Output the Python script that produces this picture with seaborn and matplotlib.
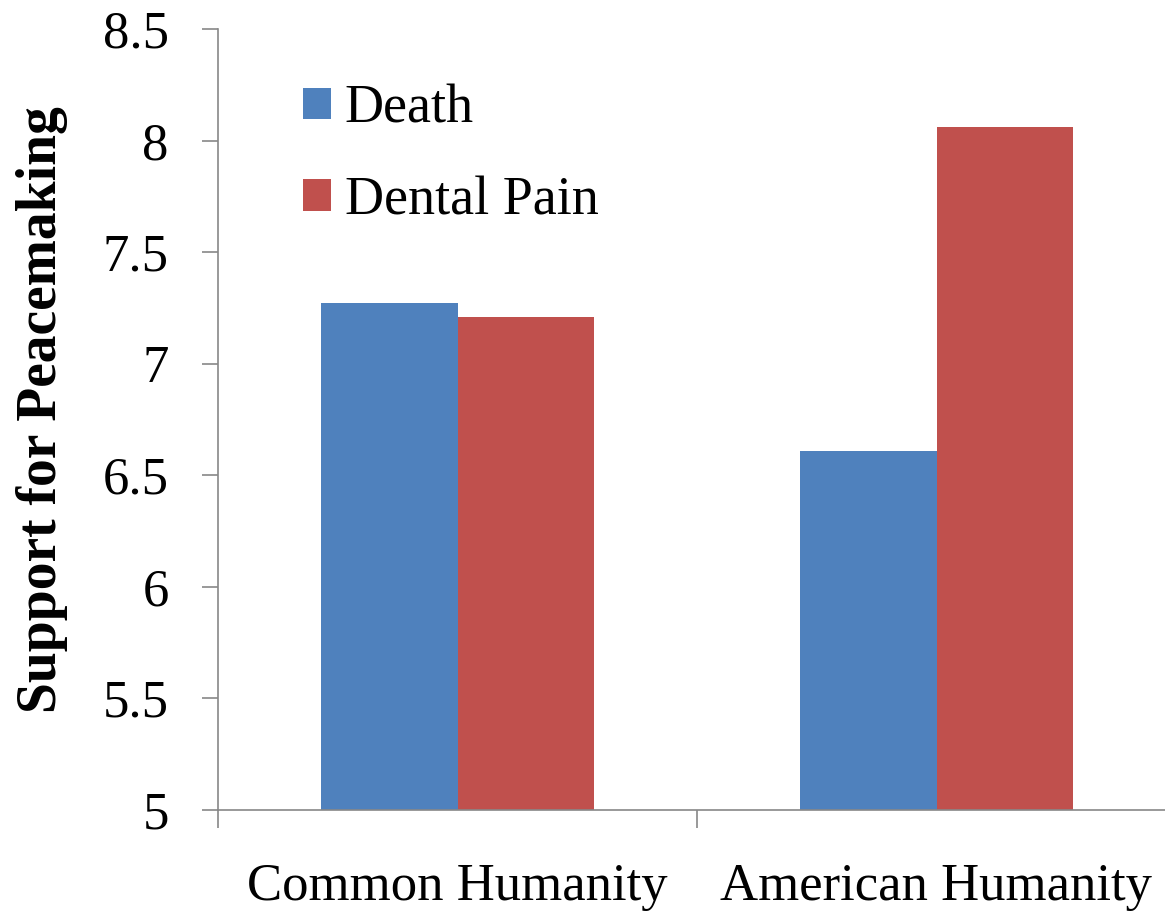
import matplotlib
matplotlib.use("Agg")
import matplotlib.pyplot as plt
import pandas as pd
import seaborn as sns

# values
conditions = ["Common Humanity", "American Humanity"]
death = [7.27, 6.61]
dental_pain = [7.21, 8.06]
series_names = ["Death", "Dental Pain"]
y_ticks = [5, 5.5, 6, 6.5, 7, 7.5, 8, 8.5]
y_tick_labels = ["5", "5.5", "6", "6.5", "7", "7.5", "8", "8.5"]

df = pd.DataFrame({
    "Condition": conditions * 2,
    "Group": [series_names[0]] * 2 + [series_names[1]] * 2,
    "Support": death + dental_pain,
})

sns.set_style("white")
plt.rcParams["font.family"] = ["Liberation Serif", "DejaVu Serif"]
plt.rcParams["text.color"] = "black"
plt.rcParams["xtick.color"] = "#888888"
plt.rcParams["ytick.color"] = "#888888"
plt.rcParams["xtick.labelcolor"] = "black"
plt.rcParams["ytick.labelcolor"] = "black"
plt.rcParams["axes.labelcolor"] = "black"

fig = plt.figure(figsize=(11.65, 9.15), dpi=100)
ax = fig.add_axes([218 / 1165, 1 - 810 / 915, 1 - 218 / 1165, (810 - 29) / 915])

sns.barplot(data=df, x="Condition", y="Support", hue="Group",
            palette=["#4F81BD", "#C0504D"], width=0.572, ax=ax,
            saturation=1, errorbar=None, linewidth=0)

ax.set_ylim(5, 8.5)
ax.set_xlim(-0.5, 1.5 - 11 / 479)
ax.set_yticks(y_ticks)
ax.set_yticklabels(y_tick_labels, fontsize=38)
ax.set_xticks([0, 1])
ax.set_xticklabels(conditions, fontsize=38)
ax.set_xticks([-0.5, 0.5], minor=True)
ax.tick_params(axis="x", which="major", length=0, pad=38, bottom=True)
ax.tick_params(axis="x", which="minor", length=13, width=1.2, direction="out", bottom=True)
ax.tick_params(axis="y", length=11.5, width=1.2, direction="out", pad=24, left=True)

for s in ["top", "right"]:
    ax.spines[s].set_visible(False)
for s in ["left", "bottom"]:
    ax.spines[s].set_color("#888888")
    ax.spines[s].set_linewidth(1.2)

ax.set_xlabel("")
ax.set_ylabel("Support for Peacemaking", fontsize=40, fontweight="bold")
ax.yaxis.set_label_coords(-0.158, 0.513)

ax.legend(loc="upper left", bbox_to_anchor=(276 / 1165, 1 - 57 / 915),
          bbox_transform=fig.transFigure, frameon=False, fontsize=39,
          handlelength=0.52, handleheight=0.52, handletextpad=0.25,
          labelspacing=0.76, borderpad=0)

fig.savefig("out.png", dpi=100)
